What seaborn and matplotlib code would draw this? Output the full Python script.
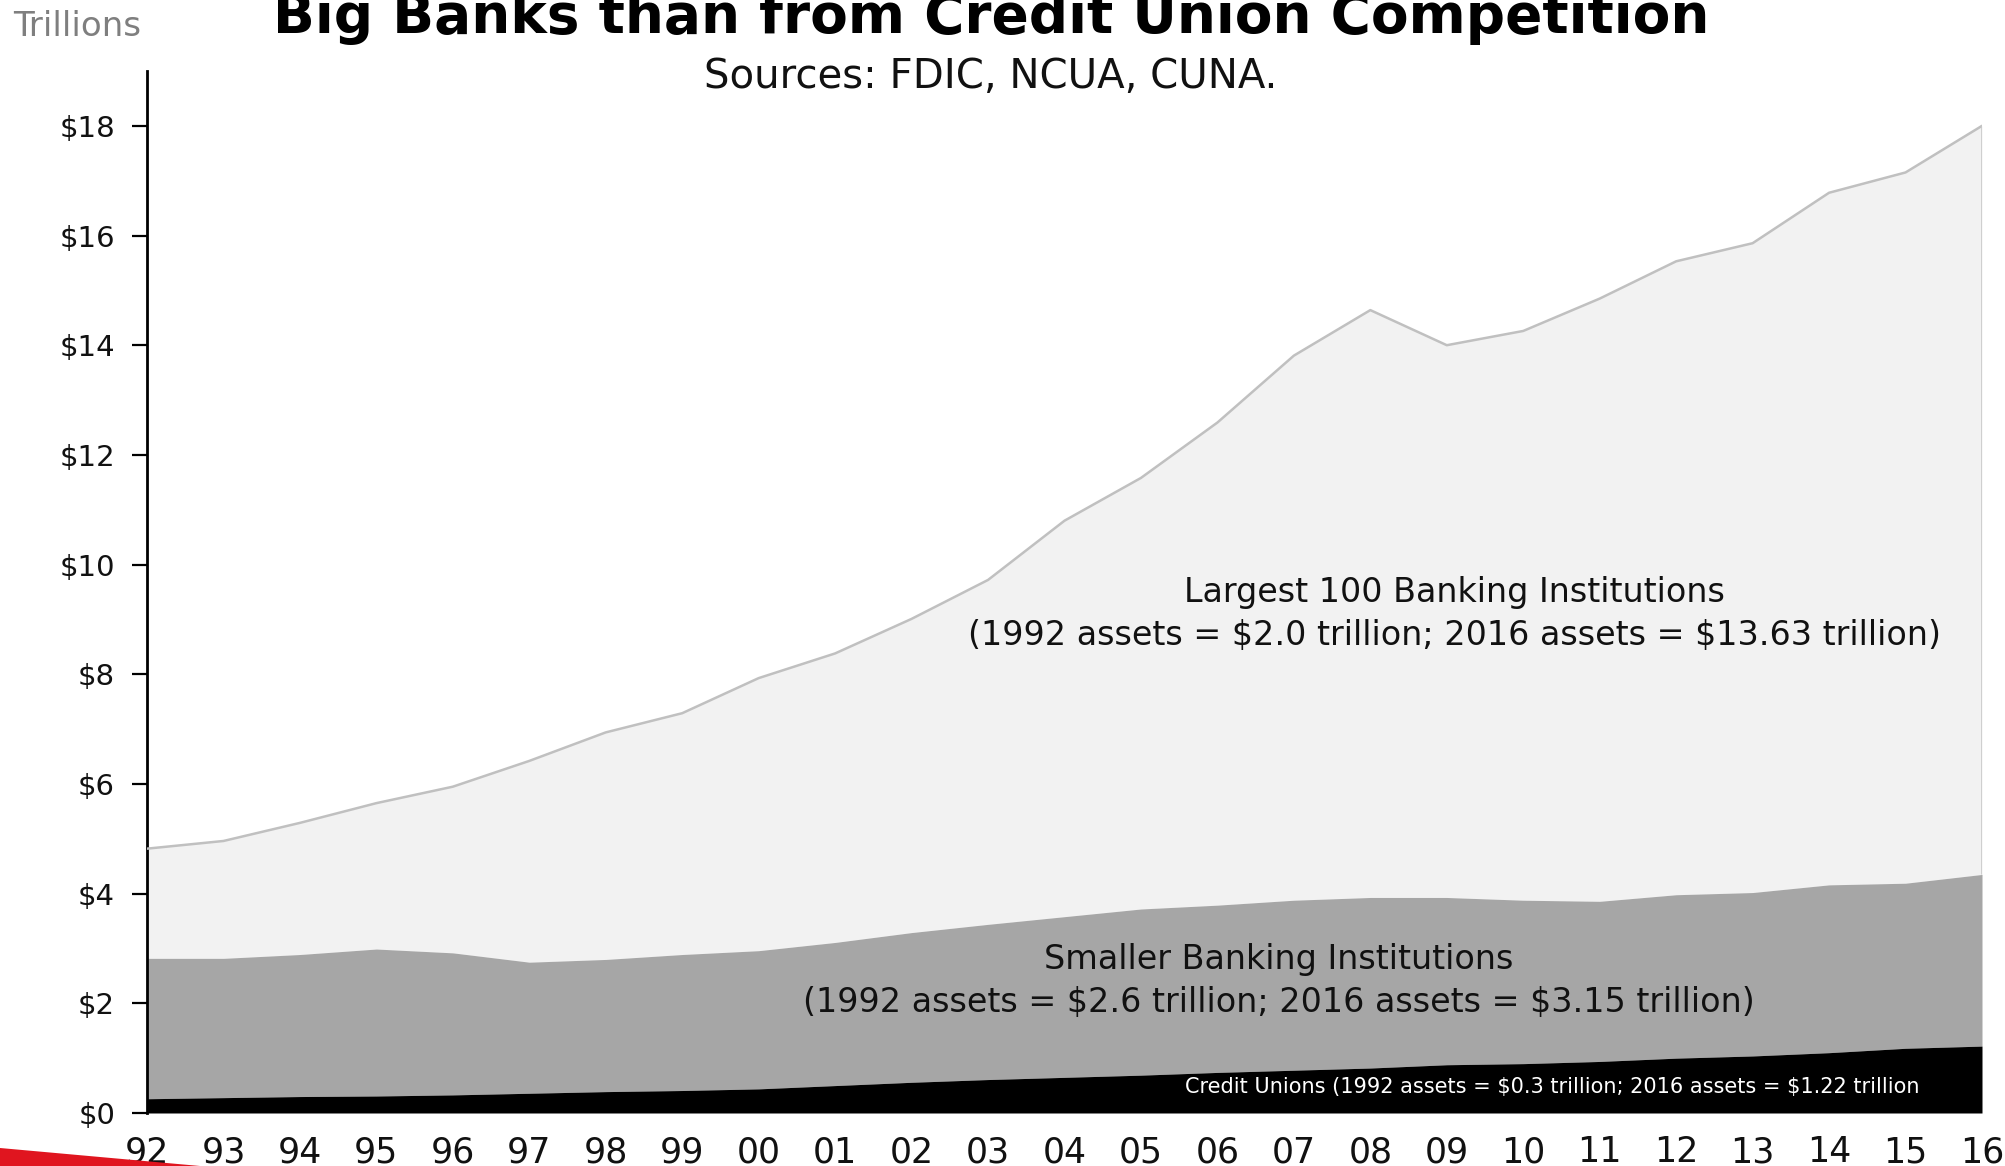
import numpy as np
import pandas as pd
import matplotlib
matplotlib.use("Agg")
import matplotlib.pyplot as plt
from matplotlib.patches import Polygon
import seaborn as sns

years = ["92", "93", "94", "95", "96", "97", "98", "99", "00", "01", "02", "03",
         "04", "05", "06", "07", "08", "09", "10", "11", "12", "13", "14", "15", "16"]
credit_unions = [0.26, 0.28, 0.30, 0.31, 0.33, 0.36, 0.39, 0.41, 0.44, 0.50, 0.56, 0.61,
                 0.65, 0.69, 0.74, 0.78, 0.82, 0.88, 0.90, 0.94, 1.00, 1.04, 1.10, 1.18, 1.22]
smaller_banks = [2.56, 2.54, 2.59, 2.68, 2.59, 2.39, 2.41, 2.48, 2.52, 2.61, 2.73, 2.83,
                 2.93, 3.03, 3.05, 3.10, 3.11, 3.05, 2.98, 2.92, 2.98, 2.98, 3.06, 3.01, 3.13]
largest_100 = [2.00, 2.14, 2.40, 2.66, 3.03, 3.67, 4.14, 4.40, 4.97, 5.27, 5.72, 6.28,
               7.22, 7.86, 8.80, 9.93, 10.71, 10.07, 10.38, 10.99, 11.55, 11.84, 12.62, 12.96, 13.65]
y_ticks = [0, 2, 4, 6, 8, 10, 12, 14, 16, 18]

df = pd.DataFrame({"year": years, "cu": credit_unions, "small": smaller_banks, "large": largest_100})
df["x"] = np.arange(len(df))
df["cu_top"] = df["cu"]
df["small_top"] = df["cu"] + df["small"]
df["total"] = df["small_top"] + df["large"]

sns.set_theme(style="white")
FONT = ["DejaVu Sans"]
plt.rcParams["font.family"] = FONT
plt.rcParams["text.parse_math"] = False

W, H = 2005, 1166
fig = plt.figure(figsize=(W / 100, H / 100), dpi=100)
ax = fig.add_axes([147 / W, 1 - 1113 / H, (1982 - 147) / W, (1113 - 71) / H])

ax.fill_between(df["x"], df["small_top"], df["total"], color="#f2f2f2", linewidth=0, zorder=1)
ax.fill_between(df["x"], df["cu_top"], df["small_top"], color="#a6a6a6", linewidth=0, zorder=2)
ax.fill_between(df["x"], 0, df["cu_top"], color="#000000", linewidth=0, zorder=3)
sns.lineplot(data=df, x="x", y="total", color="#c0c0c0", linewidth=1.8, ax=ax, zorder=4)
ax.plot([df["x"].iloc[-1]] * 2, [df["small_top"].iloc[-1], df["total"].iloc[-1]],
        color="#c8c8c8", linewidth=1.2, zorder=4)

ax.set_xlim(0, len(df) - 1)
ax.set_ylim(0, 19)
ax.set_xticks(df["x"])
ax.set_xticklabels(years)
ax.set_yticks(y_ticks)
ax.set_yticklabels([f"${v}" for v in y_ticks])
ax.set_xlabel("")
ax.set_ylabel("")
for s in ["top", "right", "bottom"]:
    ax.spines[s].set_visible(False)
ax.spines["left"].set_color("black")
ax.spines["left"].set_linewidth(2.0)
ax.tick_params(axis="y", which="major", left=True, length=11, width=1.6, color="black",
               labelsize=21, pad=12, labelcolor="#111111")
ax.tick_params(axis="x", which="major", bottom=False, labelsize=25, pad=10, labelcolor="#111111")

ax.text(17.1, 9.1, "Largest 100 Banking Institutions\n(1992 assets = $2.0 trillion; 2016 assets = $13.63 trillion)",
        ha="center", va="center", fontsize=24, color="#111111", linespacing=1.4, zorder=5)
ax.text(14.8, 2.41, "Smaller Banking Institutions\n(1992 assets = $2.6 trillion; 2016 assets = $3.15 trillion)",
        ha="center", va="center", fontsize=24, color="#111111", linespacing=1.4, zorder=5)
ax.text(18.38, 0.47, "Credit Unions (1992 assets = $0.3 trillion; 2016 assets = $1.22 trillion",
        ha="center", va="center", fontsize=15, color="white", zorder=5)

fig.text(991 / W, 1 - 33 / H, "Big Banks than from Credit Union Competition",
         ha="center", va="baseline", fontsize=39.5, fontweight="bold", color="black")
fig.text(991 / W, 1 - 77 / H, "Sources: FDIC, NCUA, CUNA.",
         ha="center", va="center", fontsize=29, color="#111111")
fig.text(13 / W, 1 - 26 / H, "Trillions", ha="left", va="center", fontsize=24.5, color="#7f7f7f")

swoosh = Polygon([(0, 1 - 1148 / H), (200 / W, 0), (0, 0)], closed=True,
                 transform=fig.transFigure, facecolor="#e0151f", edgecolor="none")
fig.patches.append(swoosh)

fig.savefig("out.png", dpi=100, facecolor="white")
